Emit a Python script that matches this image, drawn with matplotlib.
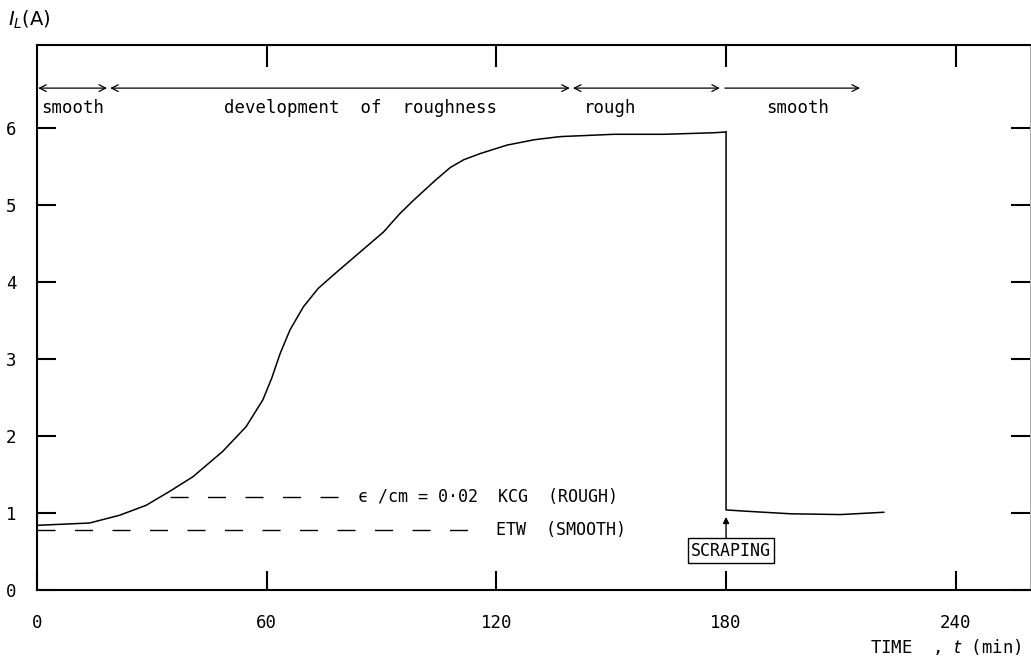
import matplotlib
matplotlib.use("Agg")
import matplotlib.pyplot as plt

# limiting current vs time
t_rough = [0, 13.7, 21.5, 28.5, 34.6, 40.7, 48.5, 54.6, 59, 61.3, 63.5, 66.1, 69.6,
           73.5, 78.3, 84.4, 90.5, 94.8, 98.3, 104, 108, 111.5, 115.8, 122.8,
           130, 136.7, 150.7, 163.8, 176.8, 180]
i_rough = [0.84, 0.87, 0.97, 1.10, 1.28, 1.47, 1.80, 2.12, 2.47, 2.75, 3.07, 3.38,
           3.68, 3.92, 4.13, 4.39, 4.65, 4.89, 5.06, 5.32, 5.49, 5.59, 5.67, 5.78,
           5.85, 5.89, 5.92, 5.92, 5.94, 5.95]
t_smooth = [180, 180, 186.4, 196.9, 209.9, 221.2]
i_smooth = [5.95, 1.04, 1.02, 0.99, 0.98, 1.01]

kcg_level = 1.21
etw_level = 0.78

# regions along the top
regions = ["smooth", "development  of  roughness", "rough", "smooth"]
region_start = [0.3, 19.1, 140.0, 179.7]
region_end = [18.3, 139.2, 178.4, 215.0]
region_mid = [9.4, 84.4, 149.7, 198.8]

xticks = [0, 60, 120, 180, 240]
yticks = [0, 1, 2, 3, 4, 5, 6]

mono = "DejaVu Sans Mono"

fig = plt.figure(figsize=(10.31, 6.66), dpi=100)
ax = fig.add_axes([37 / 1031, 76 / 666, 993 / 1031, 545 / 666])
ax.set_xlim(0, 259.4)
ax.set_ylim(0, 7.08)

ax.plot(t_rough, i_rough, color="black", lw=1.1)
ax.plot(t_smooth, i_smooth, color="black", lw=1.1)

# reference lines
ax.plot([34.7, 80.4], [kcg_level, kcg_level], color="black", lw=1.0, dashes=(13, 14))
ax.plot([0, 114.4], [etw_level, etw_level], color="black", lw=1.0, dashes=(13, 14))
ax.text(83.9, kcg_level, "\u03f5 /cm = 0\u00b702  KCG  (ROUGH)", family=mono,
        fontsize=12, va="center", ha="left")
ax.text(119.9, etw_level, "ETW  (SMOOTH)", family=mono, fontsize=12,
        va="center", ha="left")

# region arrows
for i in range(len(regions)):
    style = "<->" if i < 3 else "<-"
    ax.annotate("", xy=(region_start[i], 6.52), xytext=(region_end[i], 6.52),
                arrowprops=dict(arrowstyle=style, lw=0.9, color="black",
                                mutation_scale=12, shrinkA=0, shrinkB=0))
    ax.text(region_mid[i], 6.26, regions[i], family=mono, fontsize=12.5,
            ha="center", va="center")

# scraping marker
ax.annotate("", xy=(180, 0.95), xytext=(180, 0.66),
            arrowprops=dict(arrowstyle="-|>", lw=1.0, color="black",
                            mutation_scale=9, shrinkA=0, shrinkB=0))
ax.text(181.3, 0.51, "SCRAPING", family=mono, fontsize=12, ha="center",
        va="center", bbox=dict(boxstyle="square,pad=0.2", fc="white",
                               ec="black", lw=1.0))

# axes
for s in ["left", "bottom", "top"]:
    ax.spines[s].set_linewidth(1.5)
ax.spines["right"].set_linewidth(0.6)
ax.spines["right"].set_color("#999999")

ax.set_xticks(xticks)
ax.set_yticks(yticks)
ax.tick_params(axis="both", direction="in", length=14, width=1.5, labelsize=12.5)
ax.tick_params(axis="x", pad=17)
ax.tick_params(axis="y", pad=15, right=True)
for lbl in ax.get_xticklabels() + ax.get_yticklabels():
    lbl.set_family(mono)

# top ticks, none at 0
topax = ax.twiny()
topax.set_xlim(ax.get_xlim())
topax.set_xticks([60, 120, 180, 240])
topax.set_xticklabels([])
topax.tick_params(direction="in", length=16, width=1.5)
for s in topax.spines.values():
    s.set_visible(False)

fig.text(8 / 1031, 1 - 20 / 666, "$I_L$(A)", fontsize=14, va="center", ha="left")
fig.text(1022 / 1031, 1 - 647 / 666, "TIME  , $t$ (min)", family=mono,
         fontsize=12.5, ha="right", va="center")

fig.savefig("out.png", dpi=100)
